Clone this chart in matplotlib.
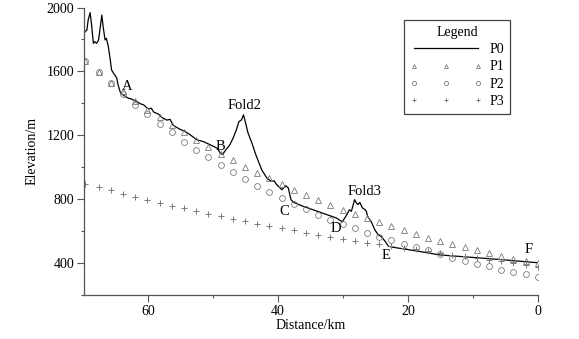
import matplotlib
matplotlib.use("Agg")
import matplotlib.pyplot as plt
from matplotlib.ticker import MultipleLocator

plt.rcParams['font.family'] = ['Liberation Serif', 'DejaVu Serif']
plt.rcParams['mathtext.fontset'] = 'stix'

# River long profile P0 (distance km, elevation m)
p0_dist = [70.0, 69.7, 69.4, 69.2, 68.9, 68.7, 68.4, 68.2, 67.9, 67.6, 67.4, 67.1,
           66.9, 66.6, 66.4, 66.1, 65.8, 65.6, 65.3, 65.1, 64.8, 64.6, 64.3, 64.0,
           63.5, 63.0, 62.6, 62.3, 61.7, 61.2, 60.7, 59.9, 59.5, 59.1, 58.4, 57.9,
           57.1, 56.6, 56.1, 55.1, 54.3, 53.9, 53.5, 52.5, 51.5, 50.7, 49.9, 49.3,
           48.9, 48.5, 48.2, 47.4, 46.9, 46.4, 46.0, 45.6, 45.3, 45.1, 44.6, 44.0,
           43.5, 43.0, 42.5, 41.7, 41.0, 40.6, 40.2, 39.4, 38.8, 38.4, 38.0, 37.6,
           36.1, 33.5, 31.0, 30.1, 29.4, 29.0, 28.7, 28.2, 27.9, 27.7, 27.4, 27.0,
           26.6, 26.4, 26.2, 25.6, 25.1, 24.6, 24.1, 23.5, 23.0, 22.3, 18.7, 15.1,
           10.9, 5.8, 0.0]
p0_elev = [1807, 1849, 1859, 1922, 1968, 1901, 1776, 1786, 1776, 1797, 1859, 1953,
           1880, 1797, 1807, 1755, 1672, 1609, 1589, 1578, 1557, 1516, 1474, 1458,
           1443, 1432, 1428, 1422, 1411, 1398, 1391, 1364, 1370, 1345, 1333, 1313,
           1295, 1300, 1262, 1238, 1224, 1214, 1203, 1172, 1161, 1146, 1130, 1118,
           1089, 1080, 1099, 1141, 1182, 1234, 1286, 1297, 1328, 1297, 1214, 1151,
           1089, 1036, 984, 932, 911, 915, 891, 859, 884, 870, 797, 780,
           755, 718, 682, 658, 703, 734, 724, 797, 775, 766, 780, 745,
           735, 724, 693, 655, 609, 578, 566, 536, 505, 499, 476, 451,
           438, 422, 402]

# Sampled points of the modelled profiles
pt_dist = [69.7, 67.61, 65.73, 63.85, 61.97, 60.10, 58.22, 56.34, 54.46, 52.58,
           50.71, 48.83, 46.95, 45.07, 43.19, 41.32, 39.44, 37.56, 35.68, 33.80,
           31.93, 30.05, 28.17, 26.29, 24.41, 22.54, 20.66, 18.78, 16.90, 15.02,
           13.15, 11.27, 9.39, 7.51, 5.63, 3.76, 1.88, 0.0]
p1_elev = [1666, 1595, 1526, 1478, 1413, 1359, 1314, 1266, 1222, 1172,
           1126, 1084, 1043, 1000, 964, 930, 893, 859, 828, 795,
           766, 734, 705, 680, 655, 630, 605, 584, 558, 541,
           522, 499, 480, 464, 447, 428, 416, 402]
p2_elev = [1666, 1595, 1528, 1460, 1391, 1332, 1270, 1218, 1161, 1109,
           1061, 1016, 970, 927, 885, 846, 809, 771, 736, 703,
           672, 642, 618, 589, 564, 543, 520, 499, 480, 457,
           434, 411, 397, 380, 359, 342, 330, 314]
p3_elev = [897, 877, 856, 835, 815, 796, 777, 760, 742, 725,
           709, 692, 677, 662, 647, 632, 618, 604, 590, 577,
           564, 552, 540, 528, 517, 506, 496, 486, 475, 462,
           452, 442, 431, 420, 410, 399, 389, 378]

# Point labels: text, distance, elevation
labels = [("A", 63.2, 1503), ("B", 48.9, 1128), ("Fold2", 45.2, 1384),
          ("C", 39.0, 724), ("D", 31.1, 616), ("Fold3", 26.6, 849),
          ("E", 23.4, 447), ("F", 1.4, 484)]

grey = "#7a7a7a"

fig = plt.figure(figsize=(5.79, 3.39), dpi=100)
ax = fig.add_axes([0.145, 0.1298, 0.784, 0.848])

ax.plot(p0_dist, p0_elev, color="black", lw=0.9, label="P0")
ax.plot(pt_dist, p1_elev, ls="none", marker="^", ms=4, mfc="none", mec=grey, mew=0.6, label="P1")
ax.plot(pt_dist, p2_elev, ls="none", marker="o", ms=4.2, mfc="none", mec=grey, mew=0.6, label="P2")
ax.plot(pt_dist, p3_elev, ls="none", marker="+", ms=5, mec=grey, mew=0.7, label="P3")

for txt, d, e in labels:
    ax.text(d, e, txt, fontsize=10.5, ha="center", va="center")

ax.set_xlim(69.85, 0)
ax.set_ylim(200, 2000)
ax.xaxis.set_major_locator(MultipleLocator(20))
ax.xaxis.set_minor_locator(MultipleLocator(10))
ax.yaxis.set_major_locator(MultipleLocator(400))
ax.yaxis.set_minor_locator(MultipleLocator(200))
ax.set_yticks([400, 800, 1200, 1600, 2000])

for s in ("top", "right"):
    ax.spines[s].set_visible(False)
for s in ("left", "bottom"):
    ax.spines[s].set_color("#555555")
    ax.spines[s].set_linewidth(0.9)

ax.tick_params(which="major", direction="out", length=5, width=0.8, color="#555555",
               labelsize=10, pad=2)
ax.tick_params(which="minor", direction="out", length=2.5, width=0.8, color="#555555")

ax.set_xlabel("Distance/km", fontsize=10, labelpad=1)
ax.set_ylabel("Elevation/m", fontsize=10, labelpad=6)

leg = ax.legend(title="Legend", loc="upper left", bbox_to_anchor=(0.705, 0.957),
                numpoints=3, handlelength=5.2, markerscale=0.7, fontsize=10,
                title_fontsize=10, fancybox=False, framealpha=1, edgecolor="#444444",
                borderpad=0.45, labelspacing=0.3, handletextpad=0.5, borderaxespad=0)
leg.get_frame().set_linewidth(0.9)

fig.savefig("out.png", dpi=100, facecolor="white")
